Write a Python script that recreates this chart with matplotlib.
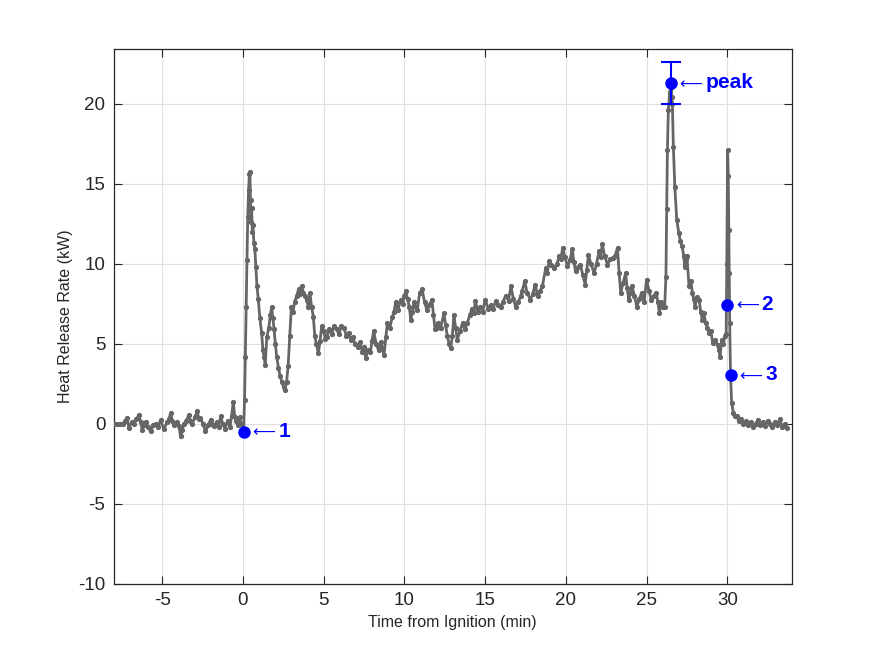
import matplotlib
matplotlib.use("Agg")
import matplotlib.pyplot as plt

plt.rcParams['font.family'] = ['Liberation Sans', 'DejaVu Sans']
plt.rcParams['axes.unicode_minus'] = False

# heat release rate trace (time in min, HRR in kW)
t_pre = [-8.0, -7.8, -7.6, -7.4, -7.3, -7.17, -7.06, -6.9, -6.75, -6.6, -6.44, -6.33, -6.23,
         -6.13, -6.03, -5.88, -5.72, -5.56, -5.41, -5.25, -5.1, -4.9, -4.7, -4.58, -4.48,
         -4.37, -4.27, -4.1, -3.96, -3.86, -3.76, -3.66, -3.5, -3.35, -3.25, -3.14, -2.98,
         -2.83, -2.73, -2.63, -2.47, -2.32, -2.16, -2.0, -1.9, -1.8, -1.6, -1.5, -1.38,
         -1.25, -1.1, -0.95, -0.8, -0.7, -0.6, -0.5, -0.4, -0.3, -0.2, -0.1, 0.0]
hrr_pre = [0, 0, 0, 0, 0.2, 0.35, -0.27, 0.1, 0.0, 0.3, 0.56, 0.1, -0.38,
           -0.1, 0.14, -0.2, -0.48, -0.1, 0.0, -0.2, 0.25, -0.35, 0.1, 0.3, 0.67,
           0.2, -0.06, 0.1, -0.17, -0.79, -0.4, 0.0, 0.2, 0.56, 0.2, 0.0, 0.4,
           0.77, 0.3, 0.35, 0.0, -0.48, -0.1, 0.25, 0.0, -0.17, 0.1, -0.2, 0.46,
           0.0, -0.3, 0.2, -0.2, 0.5, 1.35, 0.4, 0.2, -0.1, 0.4, 0.0, -0.4]

t_burn = [0.05, 0.1, 0.15, 0.2, 0.25, 0.3, 0.35, 0.4, 0.43, 0.47, 0.5, 0.54, 0.58, 0.62,
          0.68, 0.74, 0.8, 0.87, 0.95, 1.05, 1.16, 1.24, 1.31, 1.38, 1.48, 1.6, 1.7, 1.78,
          1.85, 1.93, 2.01, 2.09, 2.2, 2.3, 2.42, 2.52, 2.6, 2.7, 2.8, 2.9, 3.0, 3.1, 3.2,
          3.33, 3.45, 3.55, 3.63, 3.75, 3.85, 3.94, 4.05, 4.15, 4.25, 4.36, 4.45, 4.55,
          4.67, 4.78, 4.88, 5.0, 5.1, 5.2,
          5.35, 5.5, 5.65, 5.8, 5.95, 6.1, 6.26, 6.4, 6.55, 6.67, 6.8, 6.95, 7.1, 7.25,
          7.4, 7.5, 7.6, 7.75, 7.9, 8.0, 8.1, 8.25, 8.4, 8.55, 8.74, 8.85, 8.95, 9.1,
          9.26, 9.36, 9.46, 9.6, 9.77, 9.9, 10.0, 10.08, 10.2, 10.3, 10.4, 10.5, 10.6,
          10.7, 10.8, 10.95, 11.1, 11.25,
          11.4, 11.55, 11.7, 11.8, 11.9, 12.0, 12.1, 12.25, 12.45, 12.55, 12.66, 12.77,
          12.87, 12.97, 13.07, 13.17, 13.28, 13.45, 13.6, 13.75, 13.9, 14.05, 14.2, 14.3,
          14.4, 14.55, 14.7, 14.85, 15.0, 15.2, 15.35, 15.5, 15.65, 15.8, 15.96, 16.1,
          16.27, 16.45, 16.6, 16.75, 16.9, 17.05, 17.2, 17.3,
          17.45, 17.6, 17.8, 17.95, 18.1, 18.25, 18.4, 18.55, 18.75, 18.85, 18.96, 19.1,
          19.27, 19.45, 19.6, 19.7, 19.8, 19.95, 20.1, 20.25, 20.4, 20.5, 20.6, 20.75,
          20.9, 21.05, 21.2, 21.3, 21.4, 21.55, 21.75, 21.9, 22.06, 22.15, 22.26, 22.4,
          22.58, 22.75, 22.9, 23.05, 23.2, 23.3, 23.4,
          23.55, 23.7, 23.8, 23.9, 24.0, 24.1, 24.25, 24.4, 24.55, 24.7, 24.85, 25.0,
          25.15, 25.3, 25.45, 25.6, 25.7, 25.8, 25.9, 26.0, 26.12]
hrr_burn = [-0.3, 1.5, 4.2, 7.3, 10.2, 12.9, 14.6, 15.6, 15.7, 14.0, 12.6, 13.5, 12.0, 12.4,
            11.3, 10.9, 9.8, 8.6, 7.8, 6.6, 5.67, 4.6, 4.2, 3.7, 5.4, 6.0, 6.8, 7.3,
            6.6, 5.9, 5.0, 4.2, 3.5, 3.0, 2.6, 2.3, 2.1, 2.6, 3.6, 5.5, 7.3, 7.0, 7.6,
            8.0, 8.4, 8.1, 8.6, 8.2, 8.0, 7.75, 7.3, 8.2, 7.3, 6.7, 5.5, 5.0,
            4.4, 5.2, 6.1, 5.8, 5.3, 5.45,
            5.9, 5.6, 6.1, 5.9, 5.6, 6.1, 6.0, 5.5, 5.7, 5.25, 5.4, 5.0, 4.8, 5.1,
            4.5, 4.8, 4.1, 4.6, 4.5, 5.2, 5.8, 5.0, 4.6, 5.1, 4.3, 5.4, 6.3, 6.0,
            6.7, 7.0, 7.6, 7.1, 7.75, 7.5, 8.0, 8.27, 7.8, 7.3, 6.5, 7.0, 7.6,
            7.3, 7.1, 8.2, 8.4, 7.6,
            7.1, 7.4, 7.75, 6.8, 5.9, 6.0, 6.3, 6.0, 6.9, 6.2, 5.46, 5.0,
            4.73, 5.5, 6.8, 6.0, 5.25, 5.8, 6.3, 5.9, 6.3, 6.8, 7.2, 6.9,
            7.65, 7.0, 7.3, 7.0, 7.75, 7.2, 7.4, 7.2, 7.65, 7.4, 7.3, 7.6,
            8.0, 7.7, 8.6, 7.8, 7.3, 7.6, 7.96, 8.3,
            8.9, 8.2, 7.75, 8.1, 8.7, 8.0, 8.3, 8.6, 9.7, 9.4, 10.15, 9.9,
            9.7, 10.0, 10.46, 10.3, 10.98, 10.4, 9.83, 10.2, 10.9, 10.1, 9.52, 9.8,
            9.94, 9.3, 8.7, 9.6, 10.56, 10.0, 9.4, 10.0, 10.77, 10.4, 11.2, 10.5,
            9.94, 10.3, 10.35, 10.5, 11.0, 9.4, 8.2,
            8.8, 9.4, 8.5, 7.75, 8.2, 8.6, 8.0, 7.3, 7.8, 8.2, 7.6, 9.0,
            8.3, 7.75, 8.0, 8.2, 7.6, 6.9, 7.6, 7.3, 7.3]

t_end = [26.2, 26.25, 26.29, 26.35, 26.43, 26.5, 26.56, 26.6, 26.66, 26.75, 26.87, 27.0,
         27.1, 27.2, 27.3, 27.37, 27.45, 27.5, 27.63, 27.75, 27.84, 27.92, 28.0, 28.12,
         28.25, 28.35, 28.46, 28.55, 28.66, 28.77, 28.87, 28.98, 29.1, 29.25, 29.4, 29.5,
         29.55, 29.65, 29.75, 29.86, 29.93,
         29.97, 30.02, 30.06, 30.09, 30.12, 30.15, 30.2, 30.27, 30.38, 30.5, 30.58, 30.7,
         30.85, 31.0, 31.15, 31.3, 31.45, 31.6, 31.75, 31.9, 32.05, 32.2, 32.35, 32.5,
         32.65, 32.8, 32.95, 33.1, 33.25, 33.4, 33.55, 33.7]
hrr_end = [9.2, 13.4, 17.1, 19.6, 20.7, 21.0, 20.4, 20.0, 17.3, 14.8, 12.75, 11.9,
           11.4, 11.1, 10.5, 9.8, 10.3, 10.46, 8.6, 8.9, 8.17, 7.8, 7.3, 7.9,
           7.75, 7.0, 6.5, 6.9, 6.3, 6.0, 5.67, 5.8, 5.04, 5.25, 4.9, 4.6,
           4.2, 5.25, 5.0, 5.46, 5.6,
           10.0, 17.1, 15.5, 12.1, 9.4, 6.3, 3.1, 1.3, 0.67, 0.5, 0.46, 0.2,
           0.3, 0.0, 0.2, -0.1, 0.1, -0.2, 0.0, 0.25, -0.1, 0.1, -0.15, 0.2,
           0.0, -0.2, 0.1, -0.1, 0.3, -0.2, 0.0, -0.25]

time = t_pre + t_burn + t_end
hrr = hrr_pre + hrr_burn + hrr_end

# marked events
event_t = [0.06, 29.98, 30.2]
event_v = [-0.5, 7.45, 3.06]
event_labels = ['1', '2', '3']
peak_t, peak_v, peak_err = 26.5, 21.3, 1.3


def label_point(ax, x, y, txt):
    # thin arrow followed by a bold label, like MATLAB's '\leftarrow' text
    ax.annotate(r'$\longleftarrow$', (x, y), xytext=(4.0, 0.5), textcoords='offset points',
                color='b', fontsize=11.5, va='center', ha='left', zorder=5)
    ax.annotate(txt, (x, y), xytext=(25, 0), textcoords='offset points',
                color='b', fontsize=15, fontweight='bold', va='center', ha='left', zorder=5)


fig = plt.figure(figsize=(8.75, 6.56), dpi=100)
ax = fig.add_axes([0.13, 0.11, 0.775, 0.815])

ax.plot(time, hrr, '-', color='#666666', lw=2.0, marker='.', ms=5.5, zorder=3)

ax.plot(event_t, event_v, 'o', color='b', ms=8, zorder=4)
for x, y, lab in zip(event_t, event_v, event_labels):
    label_point(ax, x, y, lab)

ax.errorbar([peak_t], [peak_v], yerr=[peak_err], fmt='o', color='b', ms=8, capsize=7,
            elinewidth=1.5, capthick=1.5, zorder=4)
label_point(ax, peak_t, peak_v, 'peak')

ax.set_xlim(-8, 34)
ax.set_ylim(-10, 23.4)
ax.set_xticks(range(-5, 31, 5))
ax.set_yticks(range(-10, 21, 5))
ax.grid(True, color='#dfdfdf', lw=0.8)
ax.set_axisbelow(True)
ax.tick_params(direction='in', length=6, top=True, right=True, labelsize=13.5,
               color='#262626', labelcolor='#262626', pad=6)
for s in ax.spines.values():
    s.set_color('#262626')
    s.set_linewidth(0.9)

ax.set_xlabel('Time from Ignition (min)', fontsize=11.5, color='#262626')
ax.set_ylabel('Heat Release Rate (kW)', fontsize=11.5, color='#262626')

fig.savefig('out.png', dpi=100)
